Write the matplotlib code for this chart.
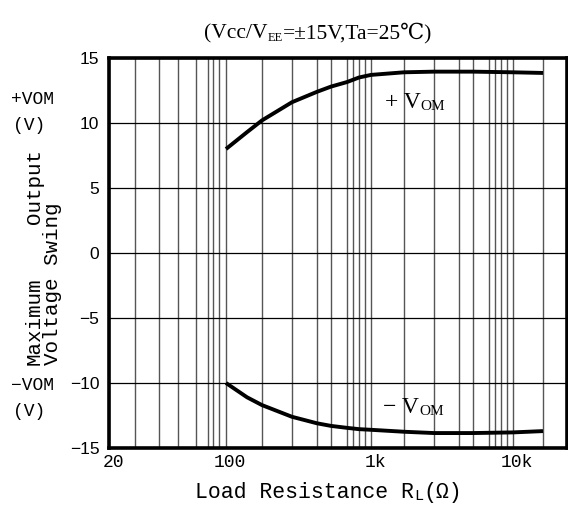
import numpy as np
import matplotlib
matplotlib.use("Agg")
import matplotlib.pyplot as plt
from matplotlib.ticker import FixedLocator, FixedFormatter, NullFormatter
from matplotlib.transforms import ScaledTranslation

# ---------------- data ----------------
load_res = [100, 150, 200, 300, 400, 500, 600, 800, 1000, 2000, 3000, 5000, 10000, 20000]
vom_pos = [8.0, 9.3, 10.2, 11.6, 12.4, 12.8, 13.15, 13.5, 13.7, 13.9, 13.95, 13.95, 13.9, 13.85]
vom_neg = [-10.0, -11.1, -11.7, -12.6, -13.1, -13.3, -13.45, -13.55, -13.6, -13.75, -13.85, -13.85, -13.8, -13.7]

x_major = [20, 100, 1000, 10000]
x_major_labels = ["20", "100", "1k", "10k"]
x_minor = [30, 40, 50, 60, 70, 80, 90, 200, 300, 400, 500, 600, 700, 800, 900,
           2000, 3000, 4000, 5000, 6000, 7000, 8000, 9000, 20000]
y_ticks = [-15, -10, -5, 0, 5, 10, 15]

# printed (hand-drawn) log paper of the datasheet: resistance -> relative position
paper_res = [1e-3, 10, 20, 30, 40, 50, 60, 70, 80, 90, 100, 200, 300, 400, 500, 600, 700,
             800, 900, 1000, 2000, 3000, 4000, 5000, 6000, 7000, 8000, 9000, 10000,
             20000, 30000, 100000, 1e9]
paper_pos = [-501, 79, 109, 135, 159, 178, 196, 208, 213, 219, 226, 262, 292, 317, 331, 347, 353,
             359, 365, 371, 404, 434, 459, 473, 489, 495, 501, 507, 513,
             543, 573, 655, 1235]
_lr = np.log10(paper_res)
_pp = np.array(paper_pos, dtype=float)


def fwd(x):
    x = np.asarray(x, dtype=float)
    lx = np.log10(np.where(x > 0, x, 1e-3))
    return np.interp(lx, _lr, _pp)


def inv(p):
    p = np.asarray(p, dtype=float)
    return 10 ** np.interp(p, _pp, _lr)


W, H = 568, 505
fig = plt.figure(figsize=(W / 100, H / 100), dpi=100)


def fx(x):
    return x / W


def fy(y):
    return 1 - y / H


ax = fig.add_axes([fx(109), fy(448), fx(567) - fx(109), fy(58) - fy(448)])
ax.set_xscale("function", functions=(fwd, inv))
ax.set_xlim(20, float(inv(567)))
ax.set_ylim(-15, 15)

ax.plot(load_res, vom_pos, color="black", lw=2.8, solid_capstyle="butt", zorder=3)
ax.plot(load_res, vom_neg, color="black", lw=2.8, solid_capstyle="butt", zorder=3)

ax.xaxis.set_major_locator(FixedLocator(x_major))
ax.xaxis.set_major_formatter(FixedFormatter(x_major_labels))
ax.xaxis.set_minor_locator(FixedLocator(x_minor))
ax.xaxis.set_minor_formatter(NullFormatter())
ax.set_yticks(y_ticks)
ax.set_yticklabels([f"{v}".replace("-", "\u2212") for v in y_ticks])

ax.tick_params(which="both", length=0)
ax.tick_params(axis="y", pad=7, labelsize=12.5)
ax.tick_params(axis="x", pad=4, labelsize=13)
for lab in ax.get_yticklabels():
    lab.set_fontfamily(["Liberation Sans", "DejaVu Sans"])
for lab in ax.get_xticklabels():
    lab.set_fontfamily(["Liberation Mono", "DejaVu Sans Mono"])
    lab.set_transform(lab.get_transform() + ScaledTranslation(3 / 72, 0, fig.dpi_scale_trans))

ax.set_axisbelow(True)
ax.grid(True, axis="x", which="both", color="#555555", lw=1.0)
ax.grid(True, axis="y", which="major", color="black", lw=0.9)
for s in ax.spines.values():
    s.set_linewidth(2.6)
    s.set_color("black")

serif = ["Liberation Serif", "DejaVu Serif", "DejaVu Sans", "Noto Sans CJK JP"]
mono = ["Liberation Mono", "DejaVu Sans Mono", "DejaVu Sans"]


def chain(parts, x, y, family):
    """parts: list of (text, size, dy_points). First part left/baseline at pixel (x, y)."""
    first = fig.text(fx(x), fy(y), parts[0][0], fontsize=parts[0][1], family=family,
                     ha="left", va="baseline")
    prev = first
    for txt, size, dy in parts[1:]:
        prev = fig.add_artist(matplotlib.text.Annotation(
            txt, xy=(1, 0), xycoords=prev, xytext=(0, dy), textcoords="offset points",
            fontsize=size, family=family, ha="left", va="bottom"))
    return first


# title
chain([("(Vcc/V", 15.5, 0), ("EE", 9, -1), ("=\u00b115V,Ta=25\u2103)", 15.5, 1)], 204, 38, serif)

# x label
chain([("Load Resistance R", 15.5, 0), ("L", 11, 0), ("(\u03a9)", 15.5, 0)], 195, 498, mono)

# y label (rotated)
for txt, xb, ys in [("Maximum", 40, 365), ("Output", 40, 224), ("Voltage Swing", 58, 365)]:
    fig.text(fx(xb), fy(ys), txt, rotation=90, rotation_mode="anchor", ha="left",
             va="baseline", fontsize=15, family=mono)

# +VOM / -VOM unit labels on the left
for txt, xc, yc in [("+VOM", 33, 100), ("(V)", 29, 126), ("\u2212VOM", 33, 385), ("(V)", 29, 411)]:
    fig.text(fx(xc), fy(yc), txt, ha="center", va="center", fontsize=13, family=mono)

# in-plot curve labels
chain([("+ V", 17, 0), ("OM", 11, 0)], 385, 108, serif)
chain([("\u2212 V", 17, 0), ("OM", 11, 0)], 383, 413, serif)

fig.savefig("out.png", dpi=100)
